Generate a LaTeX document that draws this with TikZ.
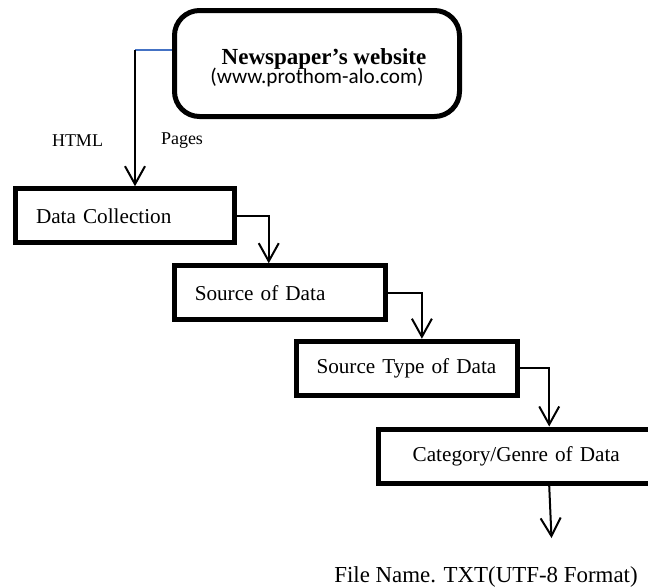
\documentclass[tikz,border=0pt]{standalone}
\usepackage{fontspec}
\setmainfont{Liberation Serif}
\newfontfamily\urlfont{Carlito}
\usetikzlibrary{arrows.meta}
\definecolor{linkblue}{RGB}{68,114,196}

\begin{document}
\begin{tikzpicture}[x=0.5pt, y=-0.5pt,
    stage/.style={draw=black, line width=2.5pt, minimum height=27pt, inner xsep=10.25pt, inner ysep=0pt, font=\fontsize{10.6}{12}\selectfont},
    flow/.style={-{Straight Barb[length=9pt,width=10pt]}, line width=1pt},
    tag/.style={font=\fontsize{9}{11}\selectfont}]
    \useasboundingbox (0,0) rectangle (648,586);

    \node[draw=black, line width=2.5pt, rounded corners=12.5pt, minimum width=142.5pt, minimum height=53pt, align=center, font=\fontsize{10.6}{10}\selectfont] (site) at (317,63.5) {\rule{0pt}{12pt}\hspace*{7pt}{\fontsize{11.5}{10}\selectfont\bfseries Newspaper’s website}\\[-1.5pt]{\urlfont (www.prothom-alo.com)}};
    \node[stage, text width=89pt, align=left] (dc) at (125,215.75) {Data Collection};
    \node[stage, text width=85.25pt, align=left] (src) at (280,292.75) {Source of Data};
    \node[stage, text width=90.25pt, align=left] (stype) at (406.75,368.25) {Source Type of Data};
    \node[stage, text width=117.25pt, align=center] (cat) at (516.25,456) {Category/Genre of Data};

    \node[tag] (html) at (77.5,141) {HTML};
    \node[tag] (pages) at (182,141) {Pages};
    \node[font=\fontsize{11.45}{13}\selectfont] (file) at (486,577) {File Name. TXT(UTF-8 Format)};

    \coordinate (tap) at (135,50);
    \coordinate (out) at (551.5,538);

    \draw[linkblue, line width=0.75pt] (tap) -- (tap -| site.west);
    \draw[flow] (tap) -- (tap |- dc.north);
    \draw[flow] (dc.east) -| ([xshift=48.5pt]src.north west);
    \draw[flow] (src.east) -| ([xshift=64.2pt]stype.north west);
    \draw[flow] (stype.east) -| ([xshift=86.6pt]cat.north west);
    \draw[flow] ([xshift=86.6pt]cat.south west) -- (out);

\end{tikzpicture}
\end{document}
